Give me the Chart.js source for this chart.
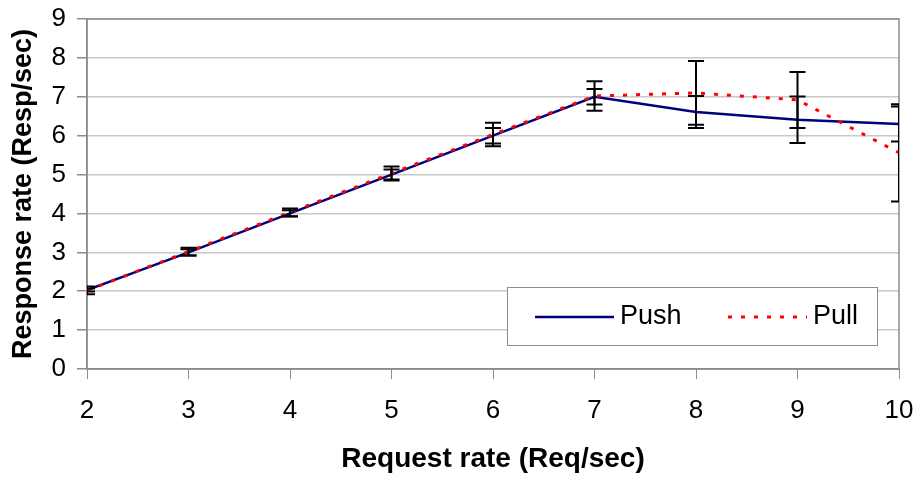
<!DOCTYPE html>
<html>
<head>
<meta charset="utf-8">
<script src="https://cdn.jsdelivr.net/npm/chart.js@4.4.1/dist/chart.umd.min.js"></script>
<style>
  html, body { margin: 0; padding: 0; background: #fff; }
  #wrap { width: 918px; height: 477px; }
</style>
</head>
<body>
<div id="wrap"><canvas id="grafico" width="918" height="477"></canvas></div>
<script>
        // dados
        const taxaRequisicao = [2, 3, 4, 5, 6, 7, 8, 9, 10];
        const pushValores = [2.03, 3.0, 4.0, 5.0, 6.0, 7.0, 6.61, 6.41, 6.3];
        const pushErros = [0.04, 0.08, 0.08, 0.13, 0.2, 0.2, 0.41, 0.6, 0.45];
        const pullValores = [2.02, 3.02, 4.03, 5.03, 6.03, 7.02, 7.1, 6.92, 5.56];
        const pullErros = [0.1, 0.1, 0.1, 0.18, 0.3, 0.38, 0.82, 0.72, 1.25];
        const ticksY = [0, 1, 2, 3, 4, 5, 6, 7, 8, 9];

        const fonte = 'Liberation Sans, Arial, sans-serif';

        // barras de erro desenhadas pelas escalas
        const barrasErro = {
            id: 'barrasErro',
            afterDatasetsDraw(chart) {
                const ctx = chart.ctx;
                const area = chart.chartArea;
                const x = chart.scales.x;
                const y = chart.scales.y;
                ctx.save();
                ctx.beginPath();
                ctx.rect(area.left, area.top - 20, area.right - area.left, area.bottom - area.top + 40);
                ctx.clip();
                ctx.strokeStyle = '#000';
                ctx.lineWidth = 2;
                chart.data.datasets.forEach(ds => {
                    ds.data.forEach((p, i) => {
                        const e = ds.erros[i];
                        const px = x.getPixelForValue(p.x);
                        const top = y.getPixelForValue(p.y + e);
                        const bot = y.getPixelForValue(p.y - e);
                        ctx.beginPath();
                        ctx.moveTo(px, top);
                        ctx.lineTo(px, bot);
                        ctx.moveTo(px - 8, top);
                        ctx.lineTo(px + 8, top);
                        ctx.moveTo(px - 8, bot);
                        ctx.lineTo(px + 8, bot);
                        ctx.stroke();
                    });
                });
                ctx.restore();
            }
        };

        // moldura da area do grafico
        const moldura = {
            id: 'moldura',
            beforeDatasetsDraw(chart) {
                const ctx = chart.ctx;
                const a = chart.chartArea;
                ctx.save();
                ctx.strokeStyle = '#8c8c8c';
                ctx.lineWidth = 1.5;
                ctx.strokeRect(a.left, a.top, a.right - a.left, a.bottom - a.top);
                ctx.restore();
            }
        };

        // legenda dentro do grafico, com caixa
        const legendaCaixa = {
            id: 'legendaCaixa',
            afterDraw(chart) {
                const ctx = chart.ctx;
                const a = chart.chartArea;
                const bx = a.left + 420, by = a.top + 268, bw = 370, bh = 58;
                ctx.save();
                ctx.fillStyle = '#fff';
                ctx.fillRect(bx, by, bw, bh);
                ctx.strokeStyle = '#8c8c8c';
                ctx.lineWidth = 1;
                ctx.strokeRect(bx + 0.5, by + 0.5, bw, bh);
                const ly = by + 30;
                const itens = [chart.data.datasets[0], chart.data.datasets[1]];
                itens.forEach((ds, i) => {
                    const x0 = bx + 28 + i * 193;
                    ctx.beginPath();
                    ctx.strokeStyle = ds.borderColor;
                    ctx.lineWidth = ds.borderWidth;
                    ctx.setLineDash(ds.borderDash || []);
                    ctx.moveTo(x0, ly);
                    ctx.lineTo(x0 + 79, ly);
                    ctx.stroke();
                    ctx.setLineDash([]);
                    ctx.fillStyle = '#000';
                    ctx.font = '27px ' + fonte;
                    ctx.textBaseline = 'middle';
                    ctx.fillText(ds.label, x0 + 85, ly);
                });
                ctx.restore();
            }
        };

        function montarPontos(valores) {
            return taxaRequisicao.map((t, i) => ({ x: t, y: valores[i] }));
        }

        const ctx = document.getElementById('grafico').getContext('2d');
        new Chart(ctx, {
            type: 'line',
            data: {
                datasets: [{
                    label: 'Push',
                    data: montarPontos(pushValores),
                    erros: pushErros,
                    borderColor: '#000080',
                    borderWidth: 2.5,
                    pointRadius: 0,
                    fill: false,
                    tension: 0,
                    order: 2
                }, {
                    label: 'Pull',
                    data: montarPontos(pullValores),
                    erros: pullErros,
                    borderColor: '#ff0000',
                    borderWidth: 3,
                    borderDash: [4, 9],
                    pointRadius: 0,
                    fill: false,
                    tension: 0,
                    order: 1
                }]
            },
            options: {
                responsive: false,
                animation: false,
                layout: { padding: { top: 19, right: 19, left: 0, bottom: 0 } },
                plugins: {
                    legend: { display: false },
                    tooltip: { enabled: false }
                },
                scales: {
                    x: {
                        type: 'linear',
                        min: 2,
                        max: 10,
                        ticks: {
                            stepSize: 1,
                            padding: 16,
                            color: '#000',
                            font: { family: fonte, size: 26 }
                        },
                        grid: {
                            drawOnChartArea: false,
                            drawTicks: true,
                            tickLength: 10,
                            color: '#8c8c8c'
                        },
                        border: { color: '#8c8c8c', width: 1.5 },
                        title: {
                            display: true,
                            text: 'Request rate (Req/sec)',
                            color: '#000',
                            font: { family: fonte, size: 28, weight: 'bold' },
                            padding: { top: 0, bottom: 1 }
                        },
                        afterFit: s => {
                            s.height = 108;
                            s.paddingLeft = 0;
                            s.paddingRight = 0;
                        }
                    },
                    y: {
                        min: 0,
                        max: 9,
                        afterBuildTicks: s => { s.ticks = ticksY.map(v => ({ value: v })); },
                        ticks: {
                            padding: 11,
                            color: '#000',
                            font: { family: fonte, size: 26 }
                        },
                        grid: {
                            color: '#c8c8c8',
                            lineWidth: 1.5,
                            tickLength: 10,
                            tickColor: '#8c8c8c'
                        },
                        border: { color: '#8c8c8c', width: 1.5 },
                        title: {
                            display: true,
                            text: 'Response rate (Resp/sec)',
                            color: '#000',
                            font: { family: fonte, size: 27, weight: 'bold' },
                            padding: { top: 7, bottom: 0 }
                        },
                        afterFit: s => {
                            s.width = 87;
                            s.paddingTop = 0;
                            s.paddingBottom = 0;
                        }
                    }
                }
            },
            plugins: [moldura, barrasErro, legendaCaixa]
        });
</script>
</body>
</html>
